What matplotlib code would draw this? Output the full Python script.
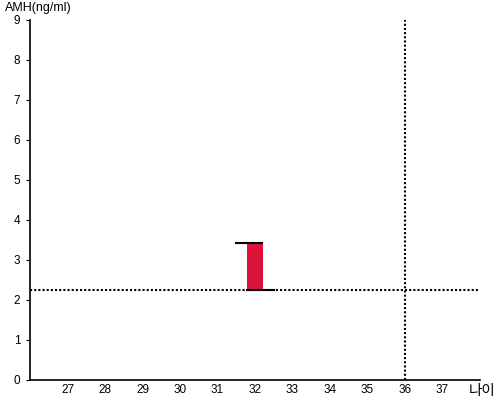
import matplotlib
matplotlib.use("Agg")
import matplotlib.pyplot as plt

# Data
x_ticks = [27, 28, 29, 30, 31, 32, 33, 34, 35, 36, 37]
y_ticks = [0, 1, 2, 3, 4, 5, 6, 7, 8, 9]
bar_x = 32
bar_low = 2.25
bar_high = 3.43
ref_amh = 2.25
ref_age = 36

plt.rcParams['font.family'] = ['Liberation Sans', 'Noto Sans CJK KR', 'DejaVu Sans']

fig = plt.figure(figsize=(5, 4), dpi=100)
ax = fig.add_axes([0.06, 0.05, 0.90, 0.90])
ax.set_xlim(26, 38)
ax.set_ylim(0, 9)

ax.bar([bar_x], [bar_high - bar_low], bottom=[bar_low], width=0.42,
       color='#DC143C', zorder=2)
ax.hlines(bar_high, bar_x - 0.53, bar_x + 0.21, color='black', lw=1.5, zorder=3)
ax.hlines(bar_low, bar_x - 0.24, bar_x + 0.52, color='black', lw=1.5, zorder=3)

ax.axhline(ref_amh, color='black', lw=1.5, linestyle=(0, (1, 1)), zorder=1)
ax.axvline(ref_age, color='black', lw=1.5, linestyle=(0, (1, 1)), zorder=1)

ax.set_xticks(x_ticks)
ax.set_yticks(y_ticks)
ax.tick_params(axis='x', length=0, labelsize=8.5, pad=3)
ax.tick_params(axis='y', length=3, labelsize=8.5, pad=4)
for s in ['top', 'right']:
    ax.spines[s].set_visible(False)
for s in ['left', 'bottom']:
    ax.spines[s].set_linewidth(1.2)

fig.text(0.01, 0.98, 'AMH(ng/ml)', fontsize=9, ha='left', va='center')
fig.text(0.99, 0.022, '나이', fontsize=10.5, ha='right', va='center',
         family=['Noto Sans CJK KR', 'DejaVu Sans'])

fig.savefig('out.png', dpi=100)
